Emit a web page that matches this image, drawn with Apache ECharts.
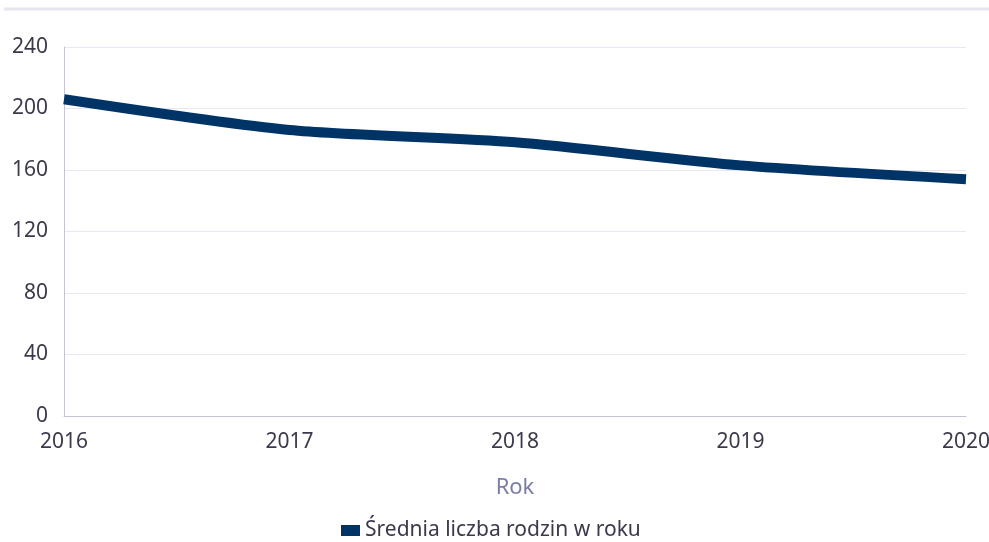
<!DOCTYPE html>
<html><head><meta charset="utf-8">
<script src="https://cdn.jsdelivr.net/npm/echarts@6/dist/echarts.min.js"></script>
<style>html,body{margin:0;padding:0;background:#fff}#c{width:989px;height:542px}</style>
</head><body><div id="c"></div>
<script>
const years = ['2016','2017','2018','2019','2020'];
const avgFamilies = [206, 186, 178, 163, 154];
const seriesName = 'Średnia liczba rodzin w roku';
const xAxisName = 'Rok';
const FONT = '"Noto Sans", "Open Sans", sans-serif';
const chart = echarts.init(document.getElementById('c'), null, {renderer:'canvas'});
chart.setOption({
  animation:false,
  textStyle:{fontFamily:FONT},
  graphic:[{type:'line', shape:{x1:4,y1:9,x2:989,y2:9}, style:{stroke:'#e6e6ee', lineWidth:3}}],
  grid:{left:64, right:23, top:47, bottom:126, containLabel:false, outerBoundsMode:'none'},
  legend:{bottom:-4, left:336, itemWidth:19, itemHeight:11, itemGap:10, icon:'rect',
    textStyle:{fontSize:21, color:'#3a3a4c', fontFamily:FONT}, data:[seriesName]},
  xAxis:{type:'category', data:years, boundaryGap:false,
    name:xAxisName, nameLocation:'middle', nameGap:61,
    nameTextStyle:{fontSize:22, color:'#7b7fa6', fontFamily:FONT},
    axisLine:{lineStyle:{color:'#c4c4d8', width:1}}, axisTick:{show:false},
    axisLabel:{fontSize:21, color:'#3a3a4c', margin:16, fontFamily:FONT}},
  yAxis:{type:'value', min:0, max:240, interval:40,
    axisLine:{show:true, lineStyle:{color:'#c4c4d8', width:1}}, axisTick:{show:false},
    splitLine:{lineStyle:{color:'#e8e8f0'}},
    axisLabel:{fontSize:21, color:'#3a3a4c', margin:16, fontFamily:FONT}},
  series:[{name:seriesName, type:'line', data:avgFamilies, smooth:0.25, symbol:'none',
    lineStyle:{width:10, color:'#003366'}, itemStyle:{color:'#003366'}}]
});
</script></body></html>
